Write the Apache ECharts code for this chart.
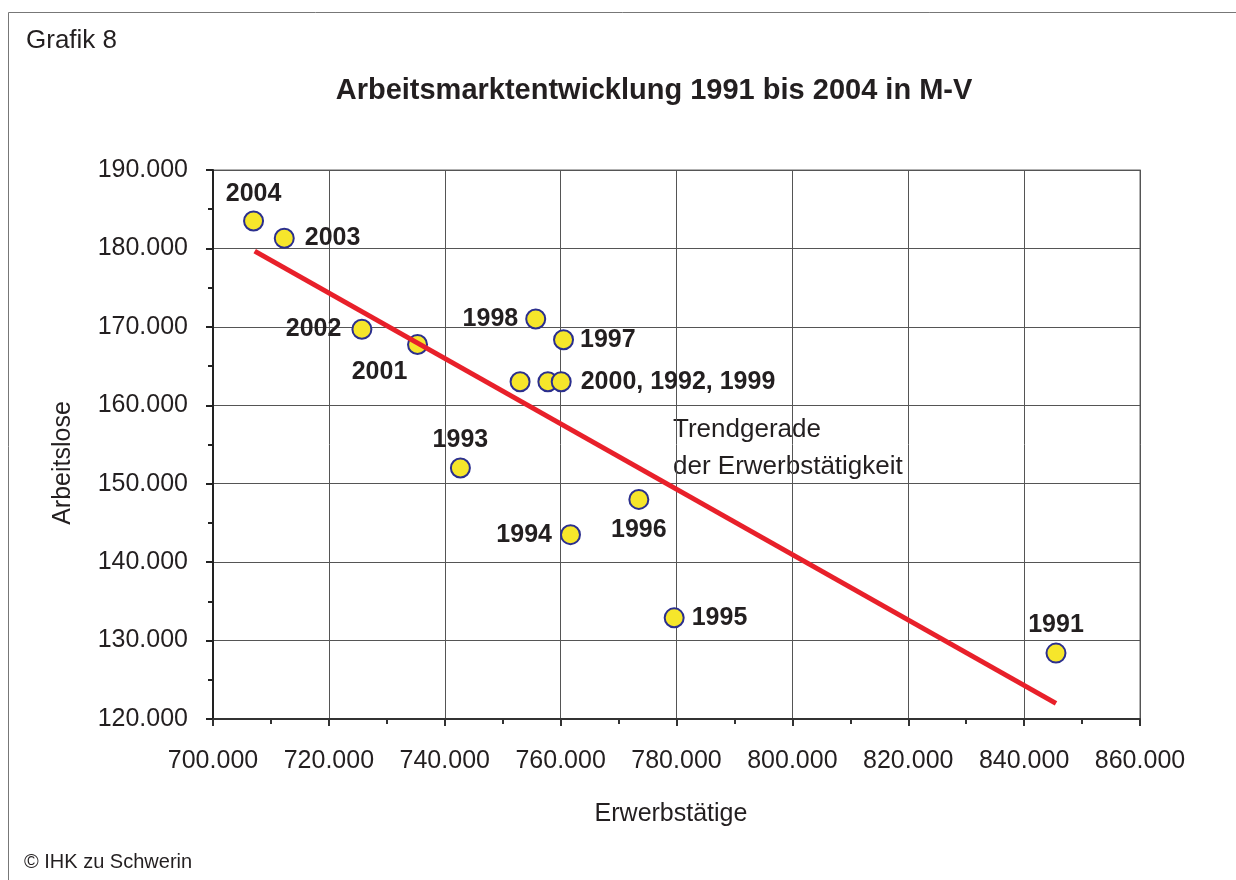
<!DOCTYPE html>
<html>
<head>
<meta charset="utf-8">
<script src="https://cdn.jsdelivr.net/npm/echarts@6/dist/echarts.min.js"></script>
<style>
  html, body { margin: 0; padding: 0; background: #fff; }
  #chart { width: 1236px; height: 880px; }
</style>
</head>
<body>
<div id="chart"></div>
<script>
// Jahre und Werte (Erwerbstätige, Arbeitslose)
const years = [1991, 1992, 1993, 1994, 1995, 1996, 1997, 1998, 1999, 2000, 2001, 2002, 2003, 2004]
const erwerbstaetige = [845500, 757800, 742700, 761700, 779600, 773500, 760500, 755700, 760100, 753000, 735300, 725700, 712300, 707000]
const arbeitslose = [128400, 163000, 152000, 143500, 132900, 148000, 168350, 171000, 163000, 163000, 167750, 169700, 181300, 183500]

// Trendgerade (Endpunkte)
const trendX = [707200, 845500]
const trendY = [179650, 122000]

// Beschriftung je Punkt
const pointLabels = {
  1991: '1991', 1993: '1993', 1994: '1994', 1995: '1995', 1996: '1996',
  1997: '1997', 1998: '1998', 1999: '2000, 1992, 1999', 2001: '2001',
  2002: '2002', 2003: '2003', 2004: '2004'
}
const labelPlacement = {
  1991: { position: 'top', distance: 5 },
  1993: { position: 'top', distance: 5 },
  1994: { position: 'left', distance: 8 },
  1995: { position: 'right', distance: 7 },
  1996: { position: 'bottom', distance: 8 },
  1997: { position: 'right', distance: 6 },
  1998: { position: 'left', distance: 7 },
  1999: { position: 'right', distance: 9 },
  2001: { position: 'bottom', distance: 5, offset: [-38, 0] },
  2002: { position: 'left', distance: 10 },
  2003: { position: 'right', distance: 10 },
  2004: { position: 'top', distance: 4 }
}

const fmt = v => String(v).replace(/\B(?=(\d{3})+(?!\d))/g, '.')
const font = 'Liberation Sans, Arial, sans-serif'
const textColor = '#231f20'

const chart = echarts.init(document.getElementById('chart'))

const points = years.map((y, i) => {
  const item = { value: [erwerbstaetige[i], arbeitslose[i]], name: String(y) }
  const p = labelPlacement[y]
  if (p) {
    item.label = Object.assign({ show: true, formatter: pointLabels[y] }, p)
  }
  return item
})

const option = {
  animation: false,
  grid: {
    left: 213, right: 96, top: 170, bottom: 161,
    show: true, borderColor: '#999', borderWidth: 1.5
  },
  xAxis: {
    type: 'value',
    min: 700000, max: 860000, interval: 20000,
    axisLine: { show: true, lineStyle: { color: '#333', width: 2 } },
    axisTick: { show: true, length: 7, lineStyle: { color: '#333', width: 2 } },
    minorTick: { show: true, splitNumber: 2, length: 5, lineStyle: { color: '#333', width: 2 } },
    splitLine: { show: true, lineStyle: { color: '#555', width: 1 } },
    axisLabel: { formatter: fmt, fontFamily: font, fontSize: 25, color: textColor, margin: 30 }
  },
  yAxis: {
    type: 'value',
    min: 120000, max: 190000, interval: 10000,
    axisLine: { show: true, lineStyle: { color: '#222', width: 2 } },
    axisTick: { show: true, length: 7, lineStyle: { color: '#222', width: 2 } },
    minorTick: { show: true, splitNumber: 2, length: 5, lineStyle: { color: '#222', width: 2 } },
    splitLine: { show: true, lineStyle: { color: '#555', width: 1 } },
    axisLabel: { formatter: fmt, fontFamily: font, fontSize: 25, color: textColor, margin: 25 }
  },
  graphic: [
    {
      type: 'rect', silent: true, z: -10,
      shape: { x: 8.5, y: 12.5, width: 1400, height: 1000 },
      style: { fill: 'none', stroke: '#777', lineWidth: 1 }
    },
    {
      type: 'text', x: 26, y: 41,
      style: { text: 'Grafik 8', font: '26px ' + font, fill: textColor, textVerticalAlign: 'middle' }
    },
    {
      type: 'text', x: 654, y: 91,
      style: {
        text: 'Arbeitsmarktentwicklung 1991 bis 2004 in M-V',
        font: 'bold 29px ' + font, fill: textColor,
        textAlign: 'center', textVerticalAlign: 'middle'
      }
    },
    {
      // Achsentitel y
      type: 'text', x: 63, y: 463, rotation: Math.PI / 2,
      style: {
        text: 'Arbeitslose', font: '25px ' + font, fill: textColor,
        textAlign: 'center', textVerticalAlign: 'middle'
      }
    },
    {
      // Achsentitel x
      type: 'text', x: 671, y: 814,
      style: {
        text: 'Erwerbstätige', font: '25px ' + font, fill: textColor,
        textAlign: 'center', textVerticalAlign: 'middle'
      }
    },
    {
      type: 'text', x: 673, y: 411,
      style: {
        text: 'Trendgerade\nder Erwerbstätigkeit',
        font: '26px ' + font, fill: textColor, lineHeight: 37
      }
    },
    {
      type: 'text', x: 24, y: 862,
      style: {
        text: '© IHK zu Schwerin', font: '20px ' + font, fill: textColor,
        textVerticalAlign: 'middle'
      }
    }
  ],
  series: [
    {
      type: 'scatter',
      symbol: 'circle',
      symbolSize: 19,
      z: 2,
      itemStyle: { color: '#f6e62b', borderColor: '#2b2f8e', borderWidth: 2, opacity: 1 },
      label: {
        show: false,
        fontFamily: font, fontSize: 25, fontWeight: 'bold', color: textColor
      },
      data: points
    },
    {
      type: 'line',
      z: 3,
      showSymbol: false,
      symbol: 'none',
      lineStyle: { color: '#e8202a', width: 5 },
      data: trendX.map((x, i) => [x, trendY[i]])
    }
  ]
}

chart.setOption(option)
</script>
</body>
</html>
